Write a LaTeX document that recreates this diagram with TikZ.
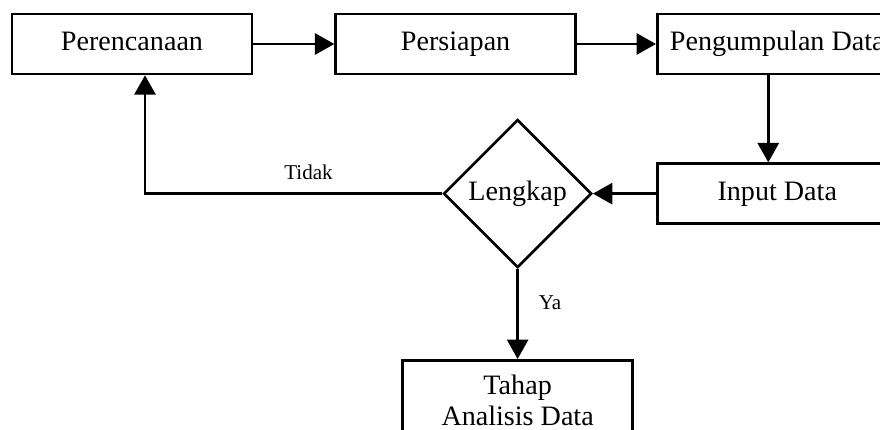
\documentclass[tikz,border=0pt]{standalone}
\usepackage{fontspec}
\setmainfont{Liberation Serif}
\usetikzlibrary{shapes.geometric, arrows.meta, positioning}
\tikzset{
    block/.style={
        rectangle, draw=black, line width=1.5pt, fill=white,
        text centered, minimum width=4.8cm, minimum height=1.2cm,
        text height=11pt, text depth=3.5pt,
        font=\fontsize{16}{17.6}\selectfont
    },
    decision/.style={
        diamond, draw=black, line width=1.5pt, aspect=1, inner sep=0pt,
        minimum width=2.96cm, minimum height=2.96cm,
        font=\fontsize{16}{17.6}\selectfont
    },
    connection/.style={draw=black, line width=1.4pt, -{Triangle[length=11pt, width=12pt]}},
    textlabel/.style={font=\fontsize{12}{13}\selectfont}
}

\begin{document}
\begin{tikzpicture}

\useasboundingbox (0,0) rectangle (17.6,-8.6);

% Steps
\node[block] (perencanaan) at (2.64,-0.88) {Perencanaan};
\node[block, right=1.62cm of perencanaan] (persiapan) {Persiapan};
\node[block, right=1.58cm of persiapan] (pengumpulan) {Pengumpulan Data};
\node[block, below=1.74cm of pengumpulan] (input) {Input Data};
\node[decision, left=1.26cm of input] (lengkap) {Lengkap};
\node[block, align=center, text height=, text depth=, minimum width=4.6cm, minimum height=1.6cm, below=1.8cm of lengkap] (analisis) {Tahap\\Analisis Data};

% Flow
\draw[connection] (perencanaan) -- (persiapan);
\draw[connection] (persiapan) -- (pengumpulan);
\draw[connection] ([xshift=-0.18cm]pengumpulan.south) -- ([xshift=-0.18cm]input.north);
\draw[connection] (input) -- (lengkap);
\draw[connection] (lengkap.west) -| node[textlabel, above=4pt, pos=0.225] {Tidak} ([xshift=0.26cm]perencanaan.south);
\draw[connection] (lengkap.south) -- node[textlabel, right=8pt, pos=0.38] {Ya} (analisis.north);

\end{tikzpicture}
\end{document}
